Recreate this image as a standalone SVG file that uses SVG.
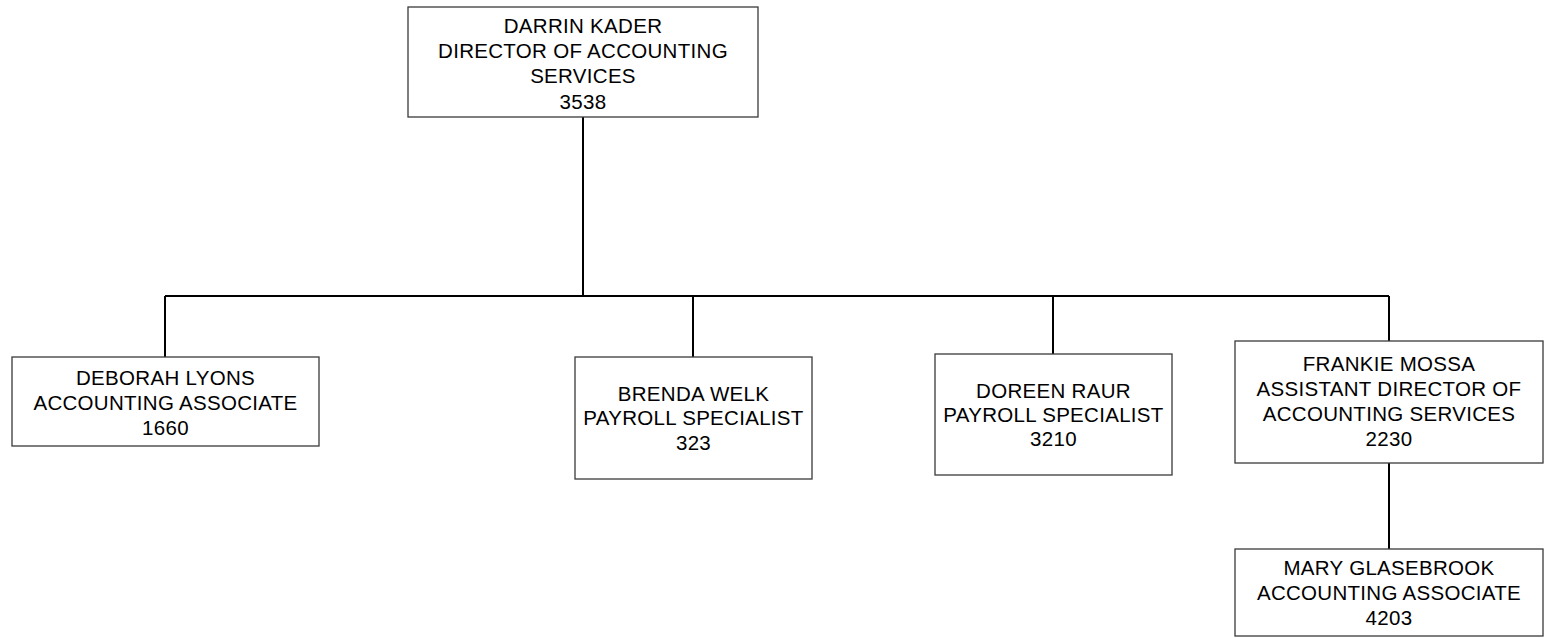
<svg xmlns="http://www.w3.org/2000/svg" width="1548" height="638" viewBox="0 0 1548 638">
<style>
.box{fill:#fff;stroke:#3a3a3a;stroke-width:1.3}
.t{font-family:"Liberation Sans",Arial,sans-serif;font-size:20.5px;letter-spacing:0.3px;fill:#000;text-anchor:middle;dominant-baseline:central}
.c{fill:none;stroke:#000;stroke-width:2}
</style>
<rect width="1548" height="638" fill="#fff"/>
<g id="connectors">
<path class="c" d="M583 117V296M165 296H1389M165 296V357M693 296V357M1053 296V354M1389 296V341M1389 463V549"/>
</g>
<g id="n-darrin">
<rect class="box" x="408" y="7" width="350" height="110"/>
<text class="t" x="583" y="25">DARRIN KADER</text>
<text class="t" x="583" y="50">DIRECTOR OF ACCOUNTING</text>
<text class="t" x="583" y="75">SERVICES</text>
<text class="t" x="583" y="101">3538</text>
</g>
<g id="n-deborah">
<rect class="box" x="12" y="357" width="307" height="89"/>
<text class="t" x="165.5" y="377">DEBORAH LYONS</text>
<text class="t" x="165.5" y="402">ACCOUNTING ASSOCIATE</text>
<text class="t" x="165.5" y="427">1660</text>
</g>
<g id="n-brenda">
<rect class="box" x="575" y="357" width="237" height="122"/>
<text class="t" x="693.5" y="393">BRENDA WELK</text>
<text class="t" x="693.5" y="417">PAYROLL SPECIALIST</text>
<text class="t" x="693.5" y="442">323</text>
</g>
<g id="n-doreen">
<rect class="box" x="935" y="354" width="237" height="121"/>
<text class="t" x="1053.5" y="390">DOREEN RAUR</text>
<text class="t" x="1053.5" y="414">PAYROLL SPECIALIST</text>
<text class="t" x="1053.5" y="438">3210</text>
</g>
<g id="n-frankie">
<rect class="box" x="1235" y="341" width="308" height="122"/>
<text class="t" x="1389" y="363">FRANKIE MOSSA</text>
<text class="t" x="1389" y="388">ASSISTANT DIRECTOR OF</text>
<text class="t" x="1389" y="413">ACCOUNTING SERVICES</text>
<text class="t" x="1389" y="438">2230</text>
</g>
<g id="n-mary">
<rect class="box" x="1235" y="549" width="308" height="87"/>
<text class="t" x="1389" y="567">MARY GLASEBROOK</text>
<text class="t" x="1389" y="592">ACCOUNTING ASSOCIATE</text>
<text class="t" x="1389" y="617">4203</text>
</g>
</svg>
